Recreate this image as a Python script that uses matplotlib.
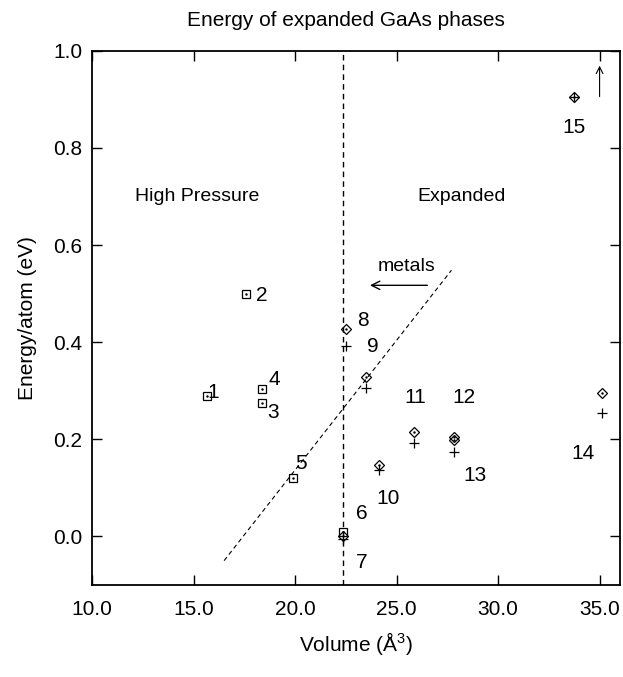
import matplotlib
matplotlib.use("Agg")
import matplotlib.pyplot as plt

# energy vs volume for GaAs phases

narrow = ["Liberation Sans Narrow", "Liberation Sans", "DejaVu Sans"]
plt.rcParams["font.family"] = narrow

sq_x = [15.67, 17.59, 18.37, 18.37, 19.9, 22.36]
sq_y = [0.29, 0.50, 0.303, 0.274, 0.12, 0.008]

dia_x = [22.36, 22.5, 23.5, 24.14, 25.86, 27.83, 27.83, 35.1, 33.74]
dia_y = [0.0, 0.427, 0.328, 0.146, 0.214, 0.198, 0.205, 0.295, 0.905]

plus_x = [22.36, 22.5, 23.5, 24.14, 25.86, 27.83, 35.1, 33.74]
plus_y = [-0.005, 0.392, 0.305, 0.136, 0.192, 0.173, 0.254, 0.905]

labels = ["1", "2", "3", "4", "5", "6", "7", "8", "9", "10", "11", "12", "13", "14", "15"]
label_x = [15.96, 18.33, 18.92, 18.97, 20.3, 23.3, 23.3, 23.35, 23.84, 24.58, 25.9, 28.3, 28.87, 34.2, 33.74]
label_y = [0.297, 0.495, 0.256, 0.324, 0.15, 0.047, -0.054, 0.445, 0.392, 0.078, 0.287, 0.287, 0.126, 0.171, 0.843]

boundary_x = 22.36
metals_line_x = [16.5, 27.7]
metals_line_y = [-0.05, 0.548]

fig = plt.figure(figsize=(6.23, 6.77), dpi=100)
ax = fig.add_axes([0.148, 0.136, 0.847, 0.789])

ax.plot(sq_x, sq_y, "s", ms=6, mfc="none", mec="black", mew=0.9)
ax.plot(sq_x, sq_y, ".", ms=1.5, color="black")
ax.plot(dia_x, dia_y, "D", ms=5, mfc="none", mec="black", mew=0.9)
ax.plot(dia_x, dia_y, ".", ms=1.5, color="black")
ax.plot(plus_x, plus_y, "+", ms=7, color="black", mew=0.9)

for t, x, y in zip(labels, label_x, label_y):
    ax.text(x, y, t, fontsize=15, ha="center", va="center")

ax.axvline(boundary_x, ls=(0, (4, 3)), color="black", lw=1)
ax.plot(metals_line_x, metals_line_y, ls=(0, (4, 3)), color="black", lw=0.8)

ax.annotate("", xy=(23.55, 0.517), xytext=(26.65, 0.517),
            arrowprops=dict(arrowstyle="->", color="black", lw=1, mutation_scale=15))
ax.text(25.5, 0.555, "metals", fontsize=14, ha="center", va="center")
ax.annotate("", xy=(35.0, 0.975), xytext=(35.0, 0.90),
            arrowprops=dict(arrowstyle="->", color="black", lw=0.8, mutation_scale=12))

ax.text(15.17, 0.699, "High Pressure", fontsize=14, ha="center", va="center")
ax.text(28.2, 0.699, "Expanded", fontsize=14, ha="center", va="center")

ax.set_xlim(10, 36)
ax.set_ylim(-0.1, 1.0)
ax.set_xticks([10, 15, 20, 25, 30, 35])
ax.set_xticklabels(["10.0", "15.0", "20.0", "25.0", "30.0", "35.0"])
ax.set_yticks([0.0, 0.2, 0.4, 0.6, 0.8, 1.0])
ax.set_yticklabels(["0.0", "0.2", "0.4", "0.6", "0.8", "1.0"])
ax.tick_params(direction="in", top=True, right=True, length=7, width=1,
               labelsize=15)
ax.tick_params(axis="x", pad=11)
ax.tick_params(axis="y", pad=7)
for s in ax.spines.values():
    s.set_linewidth(1.3)

ax.set_xlabel(r"Volume ($\mathregular{\AA^3}$)", fontsize=15, labelpad=8)
ax.set_ylabel("Energy/atom (eV)", fontsize=15, family=["Liberation Sans", "DejaVu Sans"],
              labelpad=12)
ax.set_title("Energy of expanded GaAs phases", fontsize=15, pad=18, x=0.48)

fig.savefig("out.png", dpi=100)
